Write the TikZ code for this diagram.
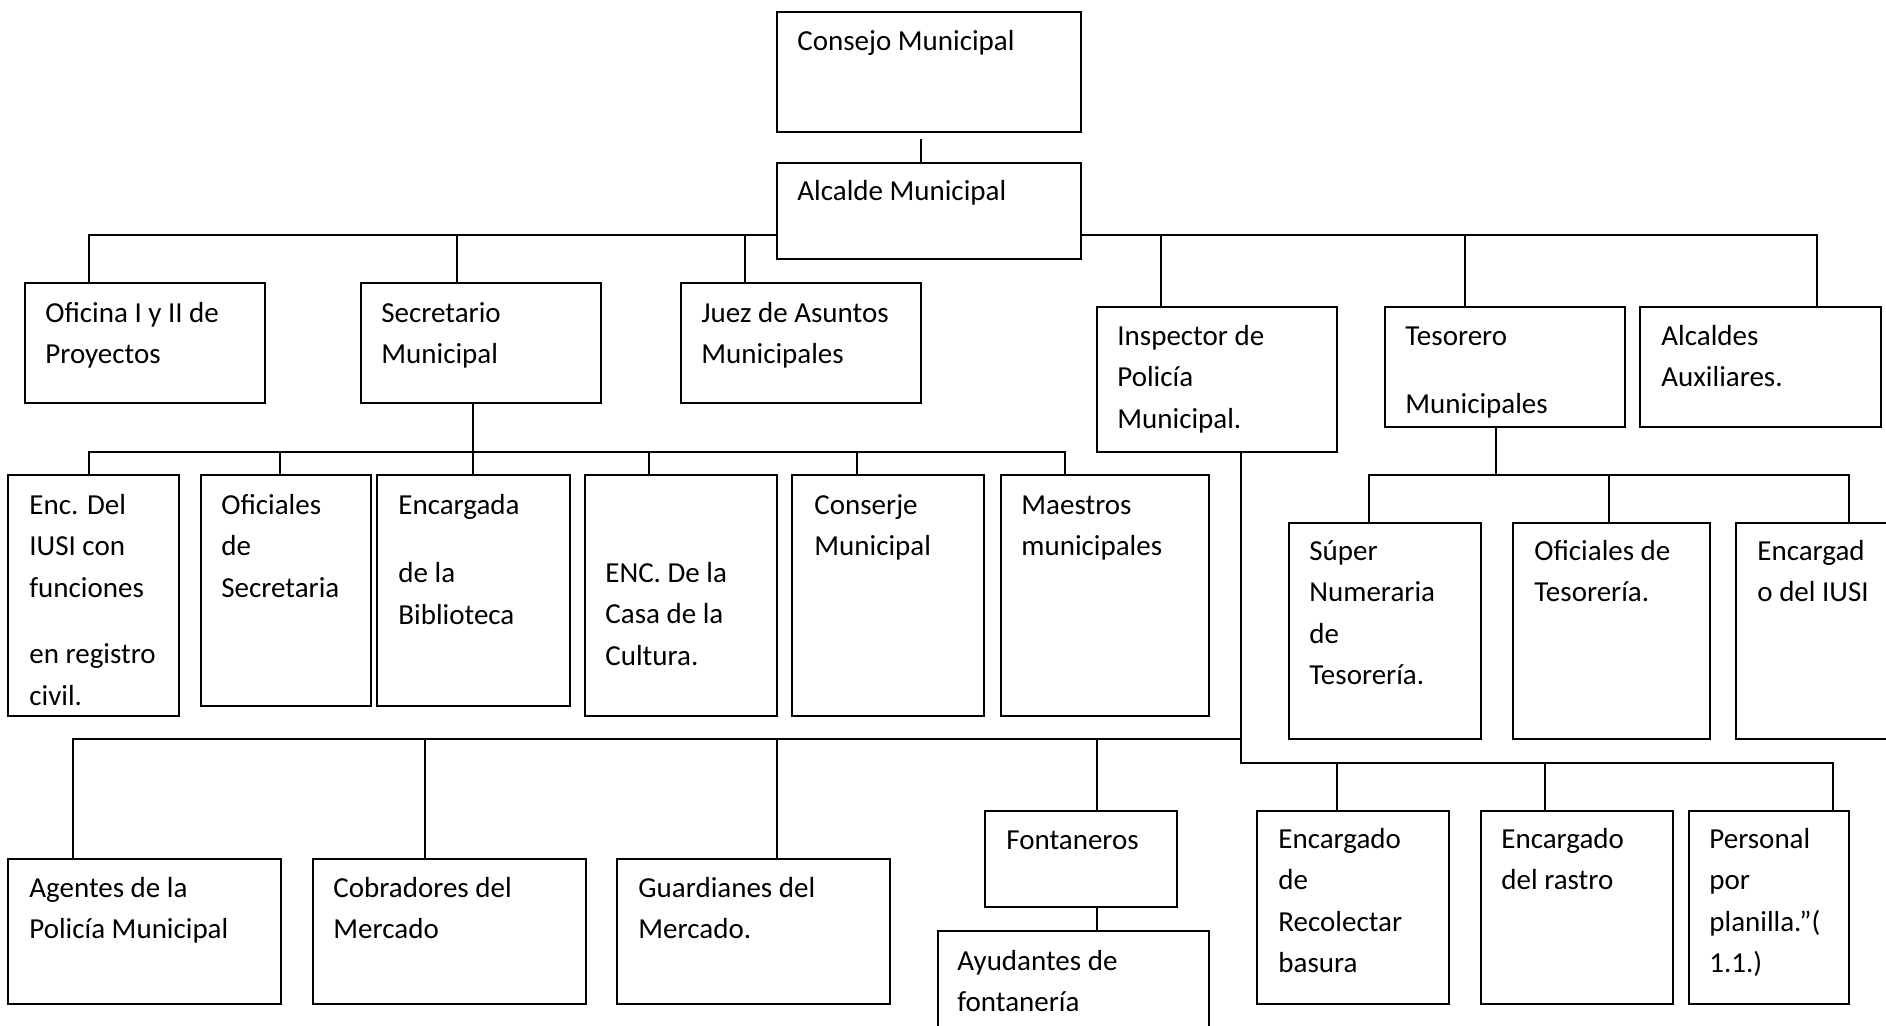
\documentclass[tikz,border=0pt]{standalone}
\usepackage{fontspec}
\setmainfont{Carlito}
\newcommand\mtxt[1]{\begin{tabular}[t]{@{}l@{}}#1\end{tabular}}
\newcommand\bx[5]{\node[box,minimum width={(#4-#2)*0.5pt},minimum height={(#5-#3)*0.5pt}] (#1) at (#2,#3) {};}
\begin{document}
\begin{tikzpicture}[x=0.5pt,y=-0.5pt,
  box/.style={draw,line width=0.8pt,fill=white,rectangle,inner sep=0pt,outer sep=0pt,anchor=north west},
  conn/.style={line width=0.55pt},
  txt/.style={anchor=base west,inner sep=0pt,font=\fontsize{14.5}{20.75}\selectfont}]
\useasboundingbox (0,0) rectangle (1886,1025);
\clip (0,0) rectangle (1886,1025);
\fill[white] (0,0) rectangle (1886,1025);
% boxes
\bx{cons}{777}{12}{1081}{132}
\bx{alc}{777}{163}{1081}{259}
\bx{ofi}{25}{283}{265}{403}
\bx{sec}{361}{283}{601}{403}
\bx{juez}{681}{283}{921}{403}
\bx{insp}{1097}{307}{1337}{452}
\bx{tes}{1385}{307}{1625}{427}
\bx{aux}{1640}{307}{1881}{427}
\bx{encdel}{8}{475}{179}{716}
\bx{ofsec}{201}{475}{371}{706}
\bx{bib}{377}{475}{570}{706}
\bx{casa}{585}{475}{777}{716}
\bx{conserje}{792}{475}{984}{716}
\bx{maes}{1001}{475}{1209}{716}
\bx{sup}{1289}{523}{1481}{739}
\bx{oftes}{1513}{523}{1710}{739}
\bx{iusi}{1736}{523}{1910}{739}
\bx{agen}{8}{859}{281}{1004}
\bx{cobr}{313}{859}{586}{1004}
\bx{guard}{617}{859}{890}{1004}
\bx{font}{985}{811}{1177}{907}
\bx{ayud}{938}{931}{1209}{1045}
\bx{recol}{1257}{811}{1449}{1004}
\bx{rastro}{1481}{811}{1673}{1004}
\bx{pers}{1689}{811}{1849}{1004}
% texts
\node[txt] (consT) at (797,50) {Consejo Municipal};
\node[txt] (alcT) at (797,200) {Alcalde Municipal};
\node[txt] (ofiT) at (45,322) {\mtxt{Oficina I y II de\\Proyectos}};
\node[txt] (secT) at (381,322) {\mtxt{Secretario\\Municipal}};
\node[txt] (juezT) at (701,322) {\mtxt{Juez de Asuntos\\Municipales}};
\node[txt] (inspT) at (1117,345) {\mtxt{Inspector de\\Policía\\Municipal.}};
\node[txt] (tesT) at (1405,345) {\mtxt{Tesorero\\[13.5pt]Municipales}};
\node[txt] (auxT) at (1661,345) {\mtxt{Alcaldes\\Auxiliares.}};
\node[txt] (encdelT) at (29,514) {\mtxt{Enc. Del\\IUSI con\\funciones\\[12.5pt]en registro\\civil.}};
\node[txt] (ofsecT) at (221,514) {\mtxt{Oficiales\\de\\Secretaria}};
\node[txt] (bibT) at (398,514) {\mtxt{Encargada\\[13.5pt]de la\\Biblioteca}};
\node[txt] (casaT) at (605,582) {\mtxt{ENC. De la\\Casa de la\\Cultura.}};
\node[txt] (conserjeT) at (814,514) {\mtxt{Conserje\\Municipal}};
\node[txt] (maesT) at (1021,514) {\mtxt{Maestros\\municipales}};
\node[txt] (supT) at (1309,560) {\mtxt{Súper\\Numeraria\\de\\Tesorería.}};
\node[txt] (oftesT) at (1534,560) {\mtxt{Oficiales de\\Tesorería.}};
\node[txt] (iusiT) at (1757,560) {\mtxt{Encargad\\o del IUSI}};
\node[txt] (agenT) at (29,897) {\mtxt{Agentes de la\\Policía Municipal}};
\node[txt] (cobrT) at (333,897) {\mtxt{Cobradores del\\Mercado}};
\node[txt] (guardT) at (638,897) {\mtxt{Guardianes del\\Mercado.}};
\node[txt] (fontT) at (1006,849) {Fontaneros};
\node[txt] (ayudT) at (957,970) {\mtxt{Ayudantes de\\fontanería}};
\node[txt] (recolT) at (1278,848) {\mtxt{Encargado\\de\\Recolectar\\basura}};
\node[txt] (rastroT) at (1501,848) {\mtxt{Encargado\\del rastro}};
\node[txt] (persT) at (1709,848) {\mtxt{Personal\\por\\planilla.”(\\1.1.)}};
% helper coordinates
\coordinate (busA) at (0,235);
\coordinate (busS) at (0,452);
\coordinate (busT) at (0,475);
\coordinate (busP) at (0,739);
\coordinate (busR) at (0,763);
\foreach \v in {89,457,745,1161,1465,1817,473,280,649,857,1065,1496,1369,1609,1849,1241,1833,73,425,777,1097,1337,1545}
  \coordinate (x\v) at (\v,0);
% connectors
\draw[conn] ([xshift=-4pt,yshift=-3.5pt]cons.south) -- ([xshift=-4pt]alc.north);
\draw[conn] (x89 |- ofi.north) |- (alc.west |- busA);
\draw[conn] (x457 |- busA) -- (x457 |- sec.north);
\draw[conn] (x745 |- busA) -- (x745 |- juez.north);
\draw[conn] (alc.east |- busA) -| (x1817 |- aux.north);
\draw[conn] (x1161 |- busA) -- (x1161 |- insp.north);
\draw[conn] (x1465 |- busA) -- (x1465 |- tes.north);
% secretario
\draw[conn] (x473 |- sec.south) -- (x473 |- bib.north);
\draw[conn] (x89 |- encdel.north) |- (x1065 |- busS) -- (x1065 |- maes.north);
\draw[conn] (x280 |- busS) -- (x280 |- ofsec.north);
\draw[conn] (x649 |- busS) -- (x649 |- casa.north);
\draw[conn] (x857 |- busS) -- (x857 |- conserje.north);
% tesorero
\draw[conn] (x1496 |- tes.south) -- (x1496 |- busT);
\draw[conn] (x1369 |- sup.north) |- (x1849 |- busT) -- (x1849 |- iusi.north);
\draw[conn] (x1609 |- busT) -- (x1609 |- oftes.north);
% inspector
\draw[conn] (x1241 |- insp.south) |- (x1833 |- busR) -- (x1833 |- pers.north);
\draw[conn] (x73 |- agen.north) |- (x1241 |- busP);
\draw[conn] (x425 |- busP) -- (x425 |- cobr.north);
\draw[conn] (x777 |- busP) -- (x777 |- guard.north);
\draw[conn] (x1097 |- busP) -- (x1097 |- font.north);
\draw[conn] (x1337 |- busR) -- (x1337 |- recol.north);
\draw[conn] (x1545 |- busR) -- (x1545 |- rastro.north);
\draw[conn] (x1097 |- font.south) -- (x1097 |- ayud.north);
\end{tikzpicture}
\end{document}
